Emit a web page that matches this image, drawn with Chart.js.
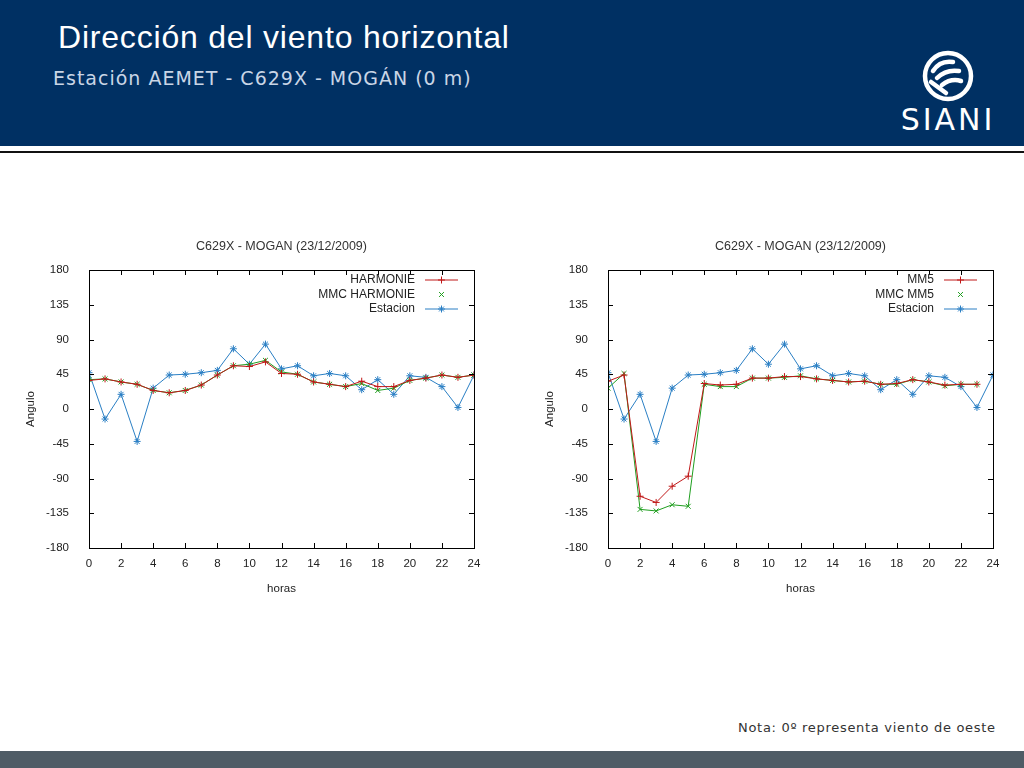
<!DOCTYPE html>
<html>
<head>
<meta charset="utf-8">
<script src="https://cdn.jsdelivr.net/npm/chart.js@4.4.1/dist/chart.umd.min.js"></script>
<style>
  body { margin: 0; width: 1024px; height: 768px; background: #fff; position: relative; overflow: hidden; font-family: 'Liberation Sans', Arial, sans-serif; }
  .header { position: absolute; left: 0; top: 0; width: 1024px; height: 146px; background: #003063; }
  .rule { position: absolute; left: 0; top: 151px; width: 1024px; height: 2px; background: #111; }
  .title { position: absolute; left: 58px; top: 19px; color: #fff; font-size: 32px; letter-spacing: 0.8px; white-space: nowrap; }
  .subtitle { position: absolute; left: 53px; top: 67px; color: #c9d5e6; font-family: 'DejaVu Sans', sans-serif; font-size: 19px; letter-spacing: 1px; white-space: nowrap; }
  .logo { position: absolute; left: 896px; top: 50px; width: 104px; height: 84px; }
  .note { position: absolute; left: 738px; top: 720px; color: #333; font-family: 'DejaVu Sans', sans-serif; font-size: 13px; letter-spacing: 0.7px; white-space: nowrap; }
  .footer { position: absolute; left: 0; top: 751px; width: 1024px; height: 17px; background: #4f5c66; }
  .chart { position: absolute; top: 235px; width: 480px; height: 365px; }
</style>
</head>
<body>
<div class="header"></div>
<div class="rule"></div>
<div class="title">Dirección del viento horizontal</div>
<div class="subtitle">Estación AEMET - C629X - MOGÁN (0 m)</div>
<svg class="logo" viewBox="0 0 104 84">
  <circle cx="52" cy="26" r="23" fill="none" stroke="#fff" stroke-width="4.5"/>
  <path d="M37 21 q7 -11 20 -9 M41 28 q9 -9 22 -7 M46 35 q9 -7 19 -4 M35 32 l15 11" stroke="#fff" stroke-width="4.5" fill="none" stroke-linecap="round"/>
  <text x="52" y="80" text-anchor="middle" fill="#fff" font-family="DejaVu Sans, sans-serif" font-size="30" letter-spacing="3">SIANI</text>
</svg>
<div class="chart" style="left:20px"><canvas id="chartLeft"></canvas></div>
<div class="chart" style="left:539px"><canvas id="chartRight"></canvas></div>
<div class="note">Nota: 0º representa viento de oeste</div>
<div class="footer"></div>
<script>
// hours of the day and tick labels
const hours = [0,1,2,3,4,5,6,7,8,9,10,11,12,13,14,15,16,17,18,19,20,21,22,23,24];
const yTicks = [180, 135, 90, 45, 0, -45, -90, -135, -180];
const chartTitle = 'C629X - MOGAN (23/12/2009)';

// left panel
const harmonie    = [37,39,35,32,24,21,24,31,44,56,55,61,46,45,35,32,29,36,29,29,37,40,44,41,44];
const mmcHarmonie = [38,39,35,32,24,21,24,31,44,56,58,63,48,45,35,32,29,33,24,27,37,40,44,41,44];

// right panel (hour 24 missing for the models)
const mm5    = [36,44,-113,-121,-100,-87,33,31,32,40,40,42,42,39,37,35,36,32,33,38,35,31,32,32,null];
const mmcMm5 = [27,46,-130,-132,-124,-126,32,29,29,40,40,41,43,39,37,35,36,32,32,38,35,30,32,32,null];

// station observations (same on both panels)
const estacion = [47,-13,19,-42,27,44,45,47,50,78,58,84,52,56,43,46,43,25,38,19,43,41,29,2,44];

const RED = '#c01818', GREEN = '#1f9e1f', BLUE = '#2a7fc4';

const toPoints = arr => hours.map((h, i) => ({ x: h, y: arr[i] }));

// gnuplot-style frame, inward ticks, title and inner legend
const gnuFrame = {
    id: 'gnuFrame',
    afterDraw(chart) {
        const { ctx, chartArea: a, scales } = chart;
        ctx.save();
        ctx.strokeStyle = '#000';
        ctx.lineWidth = 1;
        ctx.strokeRect(Math.round(a.left) + 0.5, Math.round(a.top) + 0.5, Math.round(a.right - a.left), Math.round(a.bottom - a.top));
        ctx.beginPath();
        scales.x.ticks.forEach(t => {
            const px = Math.round(scales.x.getPixelForValue(t.value)) + 0.5;
            ctx.moveTo(px, a.bottom); ctx.lineTo(px, a.bottom - 5);
            ctx.moveTo(px, a.top); ctx.lineTo(px, a.top + 5);
        });
        scales.y.ticks.forEach(t => {
            const py = Math.round(scales.y.getPixelForValue(t.value)) + 0.5;
            ctx.moveTo(a.left, py); ctx.lineTo(a.left + 5, py);
            ctx.moveTo(a.right, py); ctx.lineTo(a.right - 5, py);
        });
        ctx.stroke();

        // title
        ctx.fillStyle = '#333';
        ctx.font = '12.5px "Liberation Sans", sans-serif';
        ctx.textAlign = 'center';
        ctx.textBaseline = 'middle';
        ctx.fillText(chartTitle, (a.left + a.right) / 2, 12);

        // legend inside plot, top right
        ctx.textAlign = 'right';
        ctx.font = '12px "Liberation Sans", sans-serif';
        chart.data.datasets.forEach((ds, i) => {
            const y = a.top + 10 + i * 14.5;
            ctx.fillStyle = '#222';
            ctx.fillText(ds.label, a.right - 59, y);
            const x0 = a.right - 49, x1 = a.right - 16, xm = (x0 + x1) / 2;
            ctx.strokeStyle = ds.borderColor;
            ctx.lineWidth = 1;
            ctx.beginPath();
            if (ds.legendLine) { ctx.moveTo(x0, y); ctx.lineTo(x1, y); }
            const r = 3.5;
            if (ds.pointStyle === 'cross' || ds.pointStyle === 'star') {
                ctx.moveTo(xm - r, y); ctx.lineTo(xm + r, y);
                ctx.moveTo(xm, y - r); ctx.lineTo(xm, y + r);
            }
            if (ds.pointStyle === 'crossRot' || ds.pointStyle === 'star') {
                ctx.moveTo(xm - r * 0.7, y - r * 0.7); ctx.lineTo(xm + r * 0.7, y + r * 0.7);
                ctx.moveTo(xm - r * 0.7, y + r * 0.7); ctx.lineTo(xm + r * 0.7, y - r * 0.7);
            }
            ctx.stroke();
        });
        ctx.restore();
    }
};

const tickFont = { size: 11.5, family: '"Liberation Sans", sans-serif' };

const makeChart = (id, modelLabel, modelData, mmcLabel, mmcData) => {
    const ds = (label, data, color, style, legendLine) => ({
        label, data: toPoints(data),
        borderColor: color, backgroundColor: color,
        borderWidth: 1, pointStyle: style, pointRadius: 3.5, pointBorderWidth: 1,
        pointHoverRadius: 3.5, tension: 0, spanGaps: false, legendLine
    });
    return new Chart(document.getElementById(id), {
        type: 'line',
        data: {
            datasets: [
                ds(modelLabel, modelData, RED, 'cross', true),
                ds(mmcLabel, mmcData, GREEN, 'crossRot', false),
                ds('Estacion', estacion, BLUE, 'star', true)
            ]
        },
        options: {
            responsive: true,
            maintainAspectRatio: false,
            animation: false,
            layout: { padding: { top: 35, right: 26, left: 0, bottom: 0 } },
            plugins: { legend: { display: false }, tooltip: { enabled: false } },
            scales: {
                x: {
                    type: 'linear', min: 0, max: 24,
                    afterBuildTicks: s => { s.ticks = hours.filter(h => h % 2 === 0).map(v => ({ value: v })); },
                    afterFit: s => { s.height = 52; },
                    grid: { display: false },
                    border: { display: false },
                    ticks: { color: '#222', font: tickFont, padding: 1, maxRotation: 0 },
                    title: { display: true, text: 'horas', color: '#222', font: tickFont, padding: { top: -2 } }
                },
                y: {
                    min: -180, max: 180,
                    afterBuildTicks: s => { s.ticks = yTicks.map(v => ({ value: v })); },
                    afterFit: s => { s.width = 69; },
                    grid: { display: false },
                    border: { display: false },
                    ticks: { color: '#222', font: tickFont, padding: 12 },
                    title: { display: true, text: 'Angulo', color: '#222', font: tickFont, padding: { bottom: 0 } }
                }
            }
        },
        plugins: [gnuFrame]
    });
};

makeChart('chartLeft', 'HARMONIE', harmonie, 'MMC HARMONIE', mmcHarmonie);
makeChart('chartRight', 'MM5', mm5, 'MMC MM5', mmcMm5);
</script>
</body>
</html>
